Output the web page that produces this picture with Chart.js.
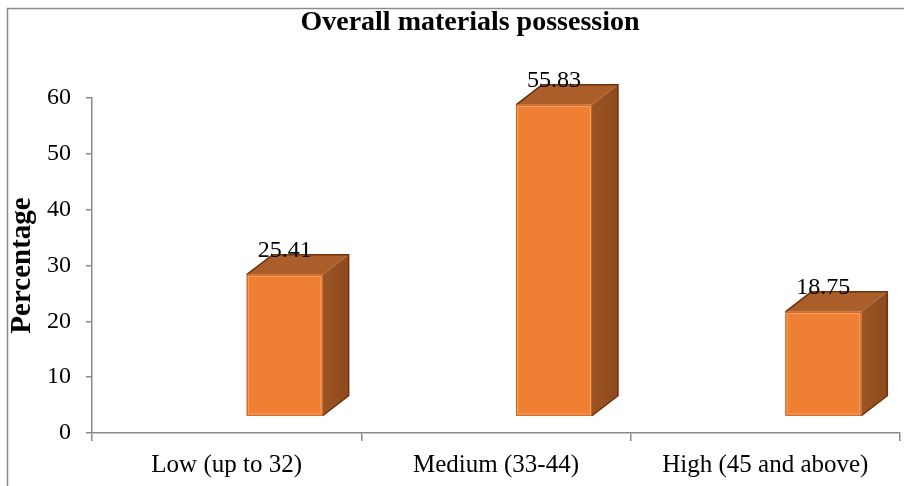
<!DOCTYPE html>
<html>
<head>
<meta charset="utf-8">
<script src="https://cdn.jsdelivr.net/npm/chart.js@4/dist/chart.umd.min.js"></script>
<style>
  html, body { margin: 0; padding: 0; background: #fff; }
  #wrap { width: 904px; height: 486px; position: relative; }
</style>
</head>
<body>
<div id="wrap"><canvas id="c" width="904" height="486"></canvas></div>
<script>
// Data
const categories = ['Low (up to 32)', 'Medium (33-44)', 'High (45 and above)'];
const percentages = [25.41, 55.83, 18.75];
const chartTitle = 'Overall materials possession';
const yAxisTitle = 'Percentage';

const SERIF = "'Liberation Serif', 'Times New Roman', serif";

// 3D box geometry (front-face shift and depth, px)
const FRONT_SHIFT_X = 58;
const FRONT_SHIFT_Y = 16.5;
const DEPTH_X = 26;
const DEPTH_Y = 20;

const framePlugin = {
  id: 'frame',
  beforeDraw(chart) {
    const ctx = chart.ctx;
    ctx.save();
    ctx.fillStyle = '#ffffff';
    ctx.fillRect(0, 0, chart.width, chart.height);
    ctx.strokeStyle = '#8c8c8c';
    ctx.lineWidth = 1.5;
    ctx.beginPath();
    ctx.moveTo(7.5, chart.height + 5);
    ctx.lineTo(7.5, 8.5);
    ctx.lineTo(chart.width + 5, 8.5);
    ctx.stroke();
    // heading
    ctx.fillStyle = '#000';
    ctx.font = 'bold 28px ' + SERIF;
    ctx.textAlign = 'center';
    ctx.textBaseline = 'alphabetic';
    ctx.fillText(chartTitle, 470, 30);
    ctx.restore();
  }
};

const boxPlugin = {
  id: 'box3d',
  afterDatasetsDraw(chart) {
    const ctx = chart.ctx;
    const meta = chart.getDatasetMeta(0);
    ctx.save();
    meta.data.forEach((el, i) => {
      const w = el.width;
      const left = el.x + FRONT_SHIFT_X - w / 2;
      const right = left + w;
      const top = el.y - FRONT_SHIFT_Y;
      const bottom = el.base - FRONT_SHIFT_Y;

      // side face
      const sideGrad = ctx.createLinearGradient(right, 0, right + DEPTH_X, 0);
      sideGrad.addColorStop(0, '#9c5424');
      sideGrad.addColorStop(1, '#8e4a1d');
      ctx.fillStyle = sideGrad;
      ctx.beginPath();
      ctx.moveTo(right, top);
      ctx.lineTo(right + DEPTH_X, top - DEPTH_Y);
      ctx.lineTo(right + DEPTH_X, bottom - DEPTH_Y);
      ctx.lineTo(right, bottom);
      ctx.closePath();
      ctx.fill();

      // top face
      ctx.fillStyle = '#ab5e29';
      ctx.beginPath();
      ctx.moveTo(left, top);
      ctx.lineTo(left + DEPTH_X, top - DEPTH_Y);
      ctx.lineTo(right + DEPTH_X, top - DEPTH_Y);
      ctx.lineTo(right, top);
      ctx.closePath();
      ctx.fill();

      // dark outer edges
      ctx.strokeStyle = '#6e320e';
      ctx.lineWidth = 1.5;
      ctx.beginPath();
      ctx.moveTo(left, top);
      ctx.lineTo(left + DEPTH_X, top - DEPTH_Y);
      ctx.lineTo(right + DEPTH_X, top - DEPTH_Y);
      ctx.lineTo(right + DEPTH_X, bottom - DEPTH_Y);
      ctx.lineTo(right, bottom);
      ctx.stroke();

      // front face
      ctx.fillStyle = '#ee7f33';
      ctx.fillRect(left, top, w, bottom - top);
      ctx.strokeStyle = '#f6a160';
      ctx.lineWidth = 1.5;
      ctx.strokeRect(left + 1.5, top + 1.5, w - 3, bottom - top - 3);
      ctx.strokeStyle = '#c8621f';
      ctx.lineWidth = 1;
      ctx.strokeRect(left + 0.5, top + 0.5, w - 1, bottom - top - 1);

      // value label
      ctx.fillStyle = '#000';
      ctx.font = '24px ' + SERIF;
      ctx.textAlign = 'center';
      ctx.textBaseline = 'middle';
      ctx.fillText(percentages[i].toFixed(2), left + w / 2, top - 24);
    });
    ctx.restore();
  }
};

new Chart(document.getElementById('c'), {
  type: 'bar',
  data: {
    labels: categories,
    datasets: [{
      data: percentages,
      backgroundColor: 'rgba(0,0,0,0)',
      borderWidth: 0,
      barPercentage: 0.282,
      categoryPercentage: 1.0
    }]
  },
  options: {
    responsive: false,
    animation: false,
    devicePixelRatio: 1,
    layout: { padding: { top: 98, right: 4, left: 0, bottom: 0 } },
    plugins: {
      legend: { display: false },
      title: { display: false },
      tooltip: { enabled: false }
    },
    scales: {
      x: {
        offset: true,
        grid: {
          offset: true,
          drawOnChartArea: false,
          drawTicks: true,
          tickLength: 8,
          color: '#8a8a8a',
          lineWidth: 1.5
        },
        border: { display: true, color: '#8a8a8a', width: 1.5 },
        ticks: {
          color: '#000',
          padding: 9,
          maxRotation: 0,
          font: { family: SERIF, size: 25 }
        },
        afterFit(scale) { scale.height = 53; }
      },
      y: {
        min: 0,
        max: 60,
        grid: {
          drawOnChartArea: false,
          drawTicks: true,
          tickLength: 6,
          color: '#8a8a8a',
          lineWidth: 1.5
        },
        border: { display: true, color: '#8a8a8a', width: 1.5 },
        ticks: {
          stepSize: 10,
          color: '#000',
          padding: 15,
          font: { family: SERIF, size: 24 }
        },
        title: {
          display: true,
          text: yAxisTitle,
          color: '#000',
          padding: { top: 5, bottom: 0 },
          font: { family: SERIF, size: 29, weight: 'bold' }
        },
        afterFit(scale) { scale.width = 92; }
      }
    }
  },
  plugins: [framePlugin, boxPlugin]
});
</script>
</body>
</html>
